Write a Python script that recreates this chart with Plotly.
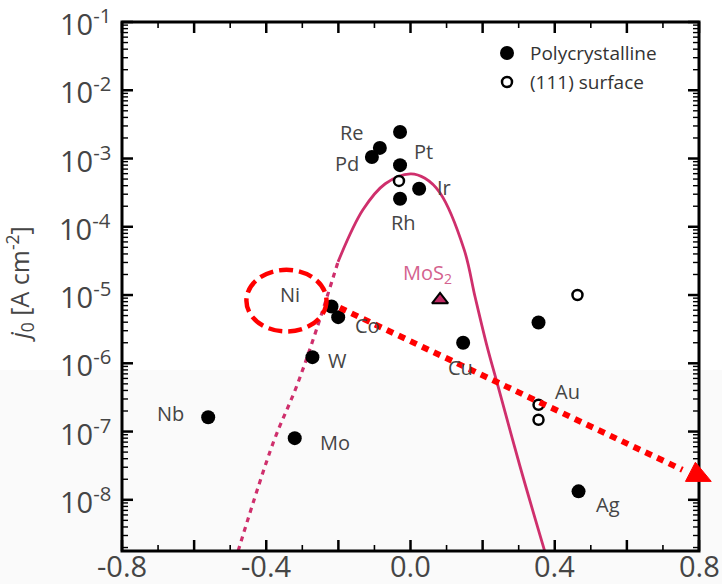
import math
import plotly.graph_objects as go

# ---- data -------------------------------------------------------------
# Polycrystalline metals: free energy of H adsorption (eV) vs exchange current density
poly_names = ["Pt", "Re", "Pd", "Pt", "Ir", "Rh", "Ni", "Co", "W", "Cu", "Nb", "Mo", "Au", "Ag"]
poly_dG = [-0.029, -0.085, -0.107, -0.029, 0.024, -0.029, -0.219, -0.2005, -0.272, 0.146,
           -0.561, -0.321, 0.355, 0.466]
poly_j0 = [2.45e-3, 1.43e-3, 1.05e-3, 8.0e-4, 3.6e-4, 2.57e-4, 6.8e-6, 4.74e-6, 1.23e-6, 2.0e-6,
           1.62e-7, 8.0e-8, 3.95e-6, 1.33e-8]

# (111) single-crystal surfaces
surf_dG = [-0.032, 0.463, 0.355, 0.355]
surf_j0 = [4.7e-4, 1.0e-5, 2.47e-7, 1.49e-7]

# MoS2 edge sites
mos2_dG = [0.082]
mos2_j0 = [8.5e-6]

# Kinetic-model volcano (solid part and dashed extrapolation)
curve_dG = [-0.201, -0.132, -0.07, 0.0, 0.04, 0.082, 0.149, 0.179, 0.2125, 0.240, 0.304, 0.372]
curve_j0 = [3.06e-5, 1.77e-4, 4.27e-4, 5.96e-4, 5.13e-4, 3.13e-4, 4.59e-5, 9.42e-6, 1.75e-6,
            5.19e-7, 3.05e-8, 1.78e-9]
extrap_dG = [-0.478, -0.381, -0.316, -0.261, -0.201]
extrap_j0 = [1.78e-9, 6.79e-8, 4.57e-7, 3.09e-6, 3.06e-5]

# label offsets (px) relative to each labelled point
label_offsets = {
    "Pt": (23, -20), "Re": (-28, 15), "Pd": (-25, -6), "Ir": (25, 1), "Rh": (3, -24),
    "Ni": (-42, 12), "Co": (29, -8), "W": (25, -3), "Cu": (-3, -25), "Nb": (-38, 4),
    "Mo": (40, -4), "Ag": (29, -13),
}

legend_entries = ["Polycrystalline", "(111) surface"]

x_ticks = [-0.8, -0.6, -0.4, -0.2, 0.0, 0.2, 0.4, 0.6, 0.8]
x_labels = ["-0.8", "-0.4", "0.0", "0.4", "0.8"]
x_minor = [-0.7, -0.5, -0.3, -0.1, 0.1, 0.3, 0.5, 0.7]
y_exponents = [-8, -7, -6, -5, -4, -3, -2, -1]
y_minor = [m * 10.0 ** e for e in range(-9, -1) for m in range(2, 10)]

X_RANGE = (-0.8, 0.8)
Y_LOG_RANGE = (-8.75, -1.0)

W, H = 722, 584
M_L, M_R, M_T, M_B = 122, 23, 22, 33
PLOT_W, PLOT_H = W - M_L - M_R, H - M_T - M_B
MAJOR_LEN, MINOR_LEN = 11, 6

CURVE = "#cf2f6c"
TEXT = "#454545"
FONT = "Open Sans"


def px(x):
    return (x - X_RANGE[0]) / (X_RANGE[1] - X_RANGE[0])


def py(logy):
    return (logy - Y_LOG_RANGE[0]) / (Y_LOG_RANGE[1] - Y_LOG_RANGE[0])


fig = go.Figure()

# faint shaded lower band of the page
fig.add_shape(type="rect", xref="paper", yref="paper", x0=-0.3, x1=1.1, y0=-0.1, y1=0.342,
              fillcolor="#fafafa", line_width=0, layer="below")

fig.add_trace(go.Scatter(x=extrap_dG, y=extrap_j0, mode="lines", showlegend=False,
                         line=dict(color=CURVE, width=3.2, dash="5px,5px", shape="spline")))
fig.add_trace(go.Scatter(x=curve_dG, y=curve_j0, mode="lines", showlegend=False,
                         line=dict(color=CURVE, width=2.8, shape="spline")))
fig.add_trace(go.Scatter(x=poly_dG, y=poly_j0, mode="markers", showlegend=False,
                         marker=dict(color="black", size=14, line=dict(width=0))))
fig.add_trace(go.Scatter(x=surf_dG, y=surf_j0, mode="markers", showlegend=False,
                         marker=dict(color="white", size=10, line=dict(color="black", width=2.5))))
fig.add_trace(go.Scatter(x=mos2_dG, y=mos2_j0, mode="markers", showlegend=False,
                         marker=dict(symbol="triangle-up", color="#c12a64", size=14,
                                     line=dict(color="black", width=2))))

# element labels
seen = set()
for name, x, y in zip(poly_names, poly_dG, poly_j0):
    if name in seen or name not in label_offsets:
        continue
    seen.add(name)
    dx, dy = label_offsets[name]
    fig.add_annotation(x=x, y=math.log10(y), text=name, showarrow=False,
                       xanchor="center", yanchor="middle",
                       xshift=dx, yshift=dy, font=dict(family=FONT, size=20, color=TEXT))
fig.add_annotation(x=surf_dG[2], y=math.log10(surf_j0[2]), text="Au", showarrow=False,
                   xanchor="center", yanchor="middle",
                   xshift=29, yshift=13, font=dict(family=FONT, size=20, color=TEXT))
fig.add_annotation(x=mos2_dG[0], y=math.log10(mos2_j0[0]), text="MoS<sub>2</sub>",
                   showarrow=False, xanchor="center", yanchor="middle", xshift=-13, yshift=26,
                   font=dict(family=FONT, size=20, color="#d4628e"))

# y-axis title
fig.add_annotation(xref="paper", yref="paper", x=0, y=0.5, xanchor="center", yanchor="middle",
                   xshift=-103, yshift=2,
                   text="<i>j</i><sub>0</sub> [A cm<sup>-2</sup>]", textangle=-90,
                   showarrow=False, font=dict(family=FONT, size=25, color=TEXT))

# tick labels
tick_font = dict(family=FONT, size=29, color=TEXT)
for lab in x_labels:
    fig.add_annotation(xref="paper", yref="paper", x=px(float(lab)), y=0,
                       xanchor="center", yanchor="top", yshift=7,
                       text=lab, showarrow=False, font=tick_font)
for e in y_exponents:
    fig.add_annotation(xref="paper", yref="paper", x=0, y=py(e), xanchor="right",
                       yanchor="middle", xshift=-9, text="10<sup>{}</sup>".format(e),
                       showarrow=False, font=tick_font)

# frame and ticks on all four edges
fig.add_shape(type="rect", xref="paper", yref="paper", x0=0, x1=1, y0=0, y1=1,
              line=dict(color="black", width=3), layer="above")
major_line = dict(color="black", width=2.5)
minor_line = dict(color="black", width=1.6)
for vals, length, style in ((x_ticks, MAJOR_LEN, major_line), (x_minor, MINOR_LEN, minor_line)):
    for v in vals:
        xp = px(v)
        fig.add_shape(type="line", xref="paper", yref="paper", x0=xp, x1=xp,
                      y0=0, y1=length / PLOT_H, line=style, layer="above")
        fig.add_shape(type="line", xref="paper", yref="paper", x0=xp, x1=xp,
                      y0=1, y1=1 - length / PLOT_H, line=style, layer="above")
y_tick_sets = ((list(y_exponents), MAJOR_LEN, major_line),
               ([math.log10(v) for v in y_minor], MINOR_LEN, dict(color="black", width=1.4)))
for vals, length, style in y_tick_sets:
    for lv in vals:
        if not (Y_LOG_RANGE[0] <= lv <= Y_LOG_RANGE[1]):
            continue
        yp = py(lv)
        fig.add_shape(type="line", xref="paper", yref="paper", x0=0, x1=length / PLOT_W,
                      y0=yp, y1=yp, line=style, layer="above")
        fig.add_shape(type="line", xref="paper", yref="paper", x0=1, x1=1 - length / PLOT_W,
                      y0=yp, y1=yp, line=style, layer="above")

# legend
legend_y = [(551 - 53) / PLOT_H, (551 - 82) / PLOT_H]
legend_x = (507 - M_L) / PLOT_W
r_fill, r_open = 7, 5
fig.add_shape(type="circle", xref="paper", yref="paper",
              x0=legend_x - r_fill / PLOT_W, x1=legend_x + r_fill / PLOT_W,
              y0=legend_y[0] - r_fill / PLOT_H, y1=legend_y[0] + r_fill / PLOT_H,
              fillcolor="black", line=dict(color="black", width=0), layer="above")
fig.add_shape(type="circle", xref="paper", yref="paper",
              x0=legend_x - r_open / PLOT_W, x1=legend_x + r_open / PLOT_W,
              y0=legend_y[1] - r_open / PLOT_H, y1=legend_y[1] + r_open / PLOT_H,
              fillcolor="white", line=dict(color="black", width=2.5), layer="above")
for txt, ly in zip(legend_entries, legend_y):
    fig.add_annotation(xref="paper", yref="paper", x=legend_x, y=ly, xanchor="left",
                       yanchor="middle", xshift=21, text=txt, showarrow=False,
                       font=dict(family=FONT, size=19, color="#333333"))

# red highlight: dashed ellipse around Ni and dotted arrow
fig.add_shape(type="circle", xref="paper", yref="paper",
              x0=px(-0.455), x1=px(-0.233), y0=py(-5.534), y1=py(-4.631),
              line=dict(color="#ff0000", width=4.5, dash="14px,6px"), layer="above")
fig.add_shape(type="line", xref="paper", yref="paper",
              x0=px(-0.196), y0=py(-5.187), x1=px(0.754), y1=py(-7.56),
              line=dict(color="#ff0000", width=6, dash="7px,6px"), layer="above")
tri = [(0.790, -7.45), (0.7625, -7.73), (0.834, -7.73)]
path = "M {} {} L {} {} L {} {} Z".format(*[v for p in tri for v in (px(p[0]), py(p[1]))])
fig.add_shape(type="path", xref="paper", yref="paper", path=path,
              fillcolor="#ff0000", line=dict(color="#ff0000", width=1), layer="above")

fig.update_xaxes(range=list(X_RANGE), showticklabels=False, ticks="", showline=False,
                 showgrid=False, zeroline=False, automargin=False)
fig.update_yaxes(type="log", range=list(Y_LOG_RANGE), showticklabels=False, ticks="",
                 showline=False, showgrid=False, zeroline=False, automargin=False)

fig.update_layout(
    width=W, height=H,
    margin=dict(l=M_L, r=M_R, t=M_T, b=M_B, autoexpand=False),
    paper_bgcolor="white", plot_bgcolor="rgba(0,0,0,0)",
    showlegend=False,
)

fig.write_html("out.html")
